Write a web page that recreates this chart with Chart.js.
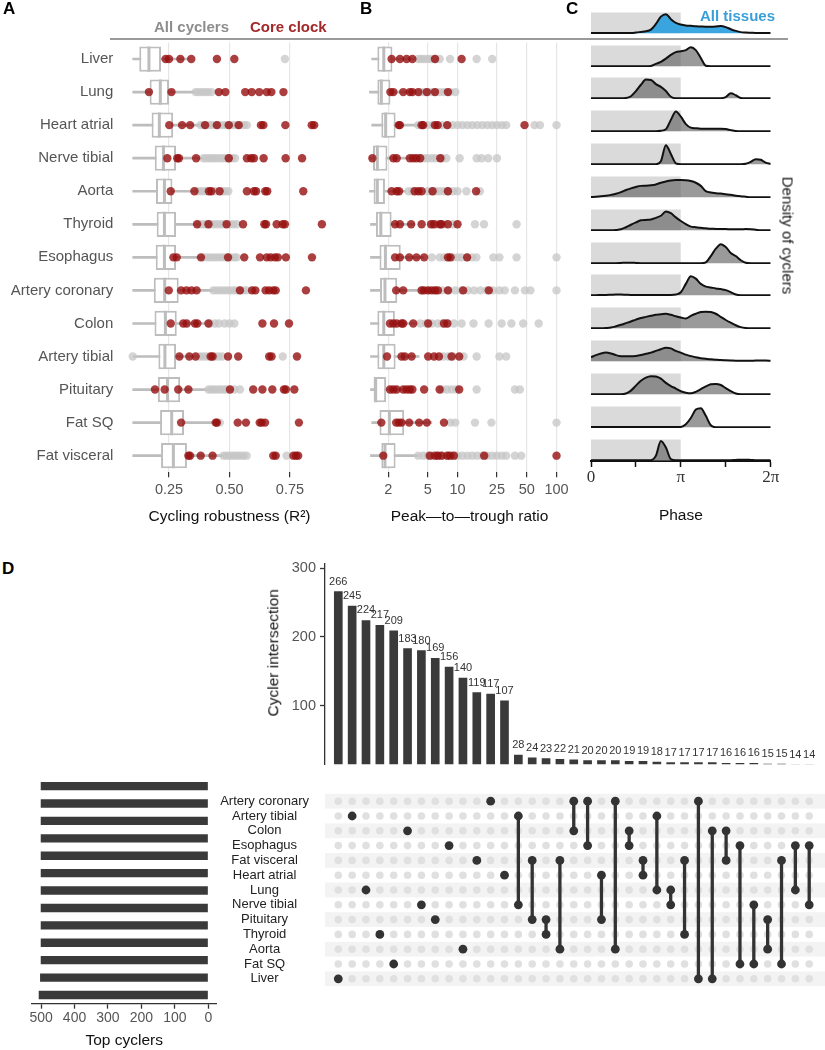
<!DOCTYPE html>
<html>
<head>
<meta charset="utf-8">
<script src="https://cdn.jsdelivr.net/npm/chart.js"></script>
<style>
    body { margin: 0; background: #fff; font-family: 'Liberation Sans', Arial, sans-serif; }
    #fig { position: relative; width: 825px; height: 1050px; overflow: hidden; }
    #fig canvas { position: absolute; }
    .lbl { position: absolute; white-space: nowrap; line-height: 1; }
    .panel { font-weight: bold; font-size: 17px; color: #000; }
</style>
</head>
<body>
<div id="fig">
    <div class="lbl panel" style="left:3px;top:0px">A</div>
    <div class="lbl panel" style="left:360px;top:0px">B</div>
    <div class="lbl panel" style="left:566px;top:0px">C</div>
    <div class="lbl panel" style="left:2px;top:560px">D</div>
    <div class="lbl" style="left:154px;top:19px;font-size:15px;font-weight:bold;color:#8e8e8e">All cyclers</div>
    <div class="lbl" style="left:250px;top:19px;font-size:15px;font-weight:bold;color:#a32a2a">Core clock</div>
    <div class="lbl" style="left:700px;top:8px;font-size:15px;font-weight:bold;color:#3a9fd8">All tissues</div>
    <div style="position:absolute;left:110px;top:38px;width:678px;height:2px;background:#9a9a9a"></div>
    <div class="lbl" style="left:723px;top:228px;width:130px;text-align:center;font-size:15px;font-weight:normal;color:#111;transform:rotate(90deg)">Density of cyclers</div>
    <div class="lbl" style="left:203px;top:645px;width:140px;text-align:center;font-size:15.5px;color:#111;transform:rotate(-90deg)">Cycler intersection</div>
</div>
<script>
// ---------- data ----------
const TISSUES = ['Liver', 'Lung', 'Heart atrial', 'Nerve tibial', 'Aorta', 'Thyroid', 'Esophagus',
    'Artery coronary', 'Colon', 'Artery tibial', 'Pituitary', 'Fat SQ', 'Fat visceral'];

// A: cycling robustness (R^2) box stats
const R2_LO  = [0.10, 0.10, 0.10, 0.10, 0.10, 0.10, 0.10, 0.10, 0.10, 0.103, 0.10, 0.10, 0.10];
const R2_Q1  = [0.127, 0.170, 0.178, 0.191, 0.196, 0.199, 0.195, 0.187, 0.190, 0.206, 0.204, 0.213, 0.217];
const R2_MED = [0.167, 0.214, 0.210, 0.227, 0.231, 0.231, 0.231, 0.232, 0.235, 0.233, 0.244, 0.261, 0.268];
const R2_Q3  = [0.217, 0.250, 0.267, 0.279, 0.264, 0.279, 0.279, 0.290, 0.282, 0.279, 0.296, 0.312, 0.324];
const R2_HI  = [0.33, 0.357, 0.38, 0.39, 0.37, 0.38, 0.39, 0.43, 0.40, 0.39, 0.42, 0.45, 0.475];
const R2_TICKS = [0.25, 0.5, 0.75];

const R2_CORE = [
    [0.236, 0.25, 0.297, 0.342, 0.448, 0.52],
    [0.167, 0.26, 0.456, 0.483, 0.565, 0.592, 0.623, 0.654, 0.673, 0.723],
    [0.251, 0.304, 0.337, 0.399, 0.448, 0.497, 0.538, 0.63, 0.64, 0.731, 0.84, 0.85],
    [0.243, 0.284, 0.291, 0.362, 0.497, 0.572, 0.59, 0.601, 0.641, 0.732, 0.8],
    [0.257, 0.355, 0.415, 0.425, 0.459, 0.572, 0.601, 0.61, 0.648, 0.656, 0.805],
    [0.366, 0.413, 0.488, 0.556, 0.644, 0.651, 0.695, 0.72, 0.729, 0.882],
    [0.268, 0.282, 0.382, 0.494, 0.561, 0.626, 0.654, 0.67, 0.688, 0.7, 0.733, 0.841],
    [0.249, 0.3, 0.322, 0.343, 0.364, 0.543, 0.593, 0.607, 0.649, 0.664, 0.681, 0.691, 0.816],
    [0.257, 0.309, 0.323, 0.357, 0.367, 0.413, 0.636, 0.684, 0.746],
    [0.293, 0.334, 0.36, 0.422, 0.43, 0.494, 0.536, 0.664, 0.674, 0.779],
    [0.192, 0.232, 0.288, 0.33, 0.502, 0.598, 0.636, 0.677, 0.725, 0.733, 0.768],
    [0.3, 0.443, 0.448, 0.534, 0.568, 0.625, 0.633, 0.647, 0.787],
    [0.33, 0.337, 0.381, 0.43, 0.681, 0.691, 0.764, 0.775, 0.784]
];
const R2_OUTLIERS = [
    [0.729],
    [0.36, 0.372, 0.385, 0.398, 0.41, 0.425],
    [0.38, 0.395, 0.41, 0.425, 0.44, 0.455, 0.47, 0.485, 0.5, 0.515, 0.53, 0.545, 0.56, 0.572],
    [0.392, 0.405, 0.418, 0.43, 0.443, 0.456, 0.47, 0.483, 0.496, 0.51, 0.523],
    [0.371, 0.385, 0.4, 0.44, 0.47, 0.482, 0.495],
    [0.378, 0.392, 0.406, 0.42, 0.434, 0.448, 0.462, 0.476, 0.5, 0.515, 0.53],
    [0.392, 0.406, 0.42, 0.434, 0.448, 0.462, 0.476, 0.49, 0.505, 0.52, 0.53],
    [0.433, 0.447, 0.461, 0.475, 0.489, 0.503, 0.517, 0.531, 0.545, 0.558, 0.571],
    [0.42, 0.44, 0.456, 0.48, 0.5, 0.52],
    [0.10, 0.378, 0.392, 0.406, 0.44, 0.455, 0.47, 0.72],
    [0.413, 0.425, 0.437, 0.45, 0.462, 0.475, 0.487, 0.52, 0.543],
    [0.46],
    [0.475, 0.487, 0.499, 0.511, 0.523, 0.535, 0.547, 0.559, 0.571, 0.736]
];

// B: peak-to-trough ratio box stats
const PTR_LO  = [1.36, 1.29, 1.36, 1.29, 1.29, 1.32, 1.32, 1.32, 1.32, 1.32, 1.32, 1.36, 1.32];
const PTR_Q1  = [1.55, 1.55, 1.70, 1.40, 1.42, 1.50, 1.63, 1.65, 1.55, 1.55, 1.42, 1.63, 1.70];
const PTR_MED = [1.80, 1.70, 1.88, 1.55, 1.55, 1.68, 1.87, 1.85, 1.80, 1.80, 1.49, 2.05, 1.85];
const PTR_Q3  = [2.20, 2.10, 2.37, 1.96, 1.85, 2.16, 2.67, 2.46, 2.33, 2.37, 1.90, 2.89, 2.37];
const PTR_HI  = [4.0, 3.6, 4.0, 3.3, 3.0, 3.7, 4.6, 4.2, 4.0, 4.1, 3.2, 5.5, 4.0];
const PTR_TICKS = [2, 5, 10, 25, 50, 100];

const PTR_CORE = [
    [2.16, 2.62, 3.06, 3.5, 5.92, 11.0],
    [2.1, 2.25, 2.83, 3.3, 3.5, 4.02, 4.9, 5.92, 8.0],
    [2.55, 2.62, 4.34, 4.5, 5.92, 6.3, 7.88, 47.5],
    [1.38, 2.25, 2.43, 3.3, 3.57, 3.85, 4.2, 6.7],
    [2.16, 2.43, 2.57, 3.69, 4.02, 4.34, 5.6, 8.0, 15.4],
    [2.34, 2.62, 3.4, 4.34, 5.4, 5.8, 6.65, 6.9, 8.0, 10.0],
    [2.34, 2.62, 3.25, 3.85, 4.6, 8.0, 8.5, 12.5],
    [2.4, 2.83, 4.34, 4.6, 5.05, 5.48, 5.92, 6.35, 8.0, 11.4, 20.7],
    [2.08, 2.25, 2.43, 2.72, 2.83, 3.57, 5.05, 7.3, 7.88],
    [1.94, 2.72, 2.94, 3.44, 5.05, 5.8, 6.5, 8.7, 10.4],
    [2.08, 2.25, 2.43, 2.83, 3.06, 3.3, 3.5, 4.6, 6.6, 10.4],
    [1.7, 2.4, 2.55, 2.72, 3.25, 4.1, 4.9, 7.3],
    [1.78, 5.25, 5.92, 6.35, 6.9, 7.88, 8.4, 9.2, 18.6, 100]
];
const PTR_OUTLIERS = [
    [4.0, 4.3, 4.6, 5.0, 5.4, 6.0, 6.6, 8.4, 15.6, 22.4],
    [4.2, 4.6, 5.0, 5.5, 6.0, 6.6, 7.3, 8.4, 9.5],
    [4.0, 4.5, 5.0, 5.6, 6.3, 7.0, 7.9, 8.9, 10, 11.2, 12.6, 14.1, 15.8, 17.8, 20, 22.4, 25, 28, 31, 60, 68, 100],
    [4.2, 4.6, 5.0, 5.5, 6.0, 7.0, 7.7, 10.5, 15.6, 17.5, 20.4, 25],
    [3.2, 3.5, 5.0, 5.5, 6.0, 6.6, 7.3, 8.0, 9.0, 10.0, 12.3, 16.8],
    [5.6, 6.2, 7.5, 9.0, 15, 18.5, 39.5],
    [5.5, 6.6, 7.3, 8.0, 9.0, 10, 11, 12.5, 14, 15.5, 23, 26.5, 39.5, 100],
    [4.3, 5.0, 6.0, 7.0, 8.2, 9.5, 11, 12.7, 14.7, 17, 19.7, 22.8, 26.5, 30, 38, 48, 54.5, 100],
    [4.2, 4.8, 5.5, 6.3, 7.0, 8.0, 9.2, 11, 14.5, 20.6, 27.9, 35, 46, 66],
    [7.2, 8.0, 9.0, 11.5, 15.6, 26.5, 31],
    [7.0, 7.8, 8.7, 9.7, 15.6, 38, 42.6],
    [8.5, 9.5, 15, 22, 100],
    [4.0, 4.5, 5.0, 5.6, 6.3, 7.0, 7.9, 8.9, 10, 11.2, 12.6, 14.1, 15.8, 17.8, 20, 22.4, 25, 28, 31, 38, 44]
];

// C: phase densities (degrees, 0..360 = 0..2pi)
const PHASE_DEG = [0, 10, 20, 30, 40, 50, 60, 70, 80, 90, 100, 110, 120, 130, 140, 150, 160, 170, 180,
    190, 200, 210, 220, 230, 240, 250, 260, 270, 280, 290, 300, 310, 320, 330, 340, 350, 360];
const PHASE_TICKS = [0, 90, 180, 270, 360];
const PHASE_TICK_LABELS = ['0', '', 'π', '', '2π'];
const NIGHT_BAND = [0, 180];
const DENSITY_ALL = [0.02, 0.02, 0.02, 0.02, 0.02, 0.02, 0.02, 0.02, 0.02, 0.04, 0.07, 0.10, 0.18, 0.45, 0.80, 0.92, 0.68, 0.50, 0.42,
    0.38, 0.36, 0.34, 0.33, 0.32, 0.32, 0.33, 0.35, 0.30, 0.20, 0.12, 0.06, 0.04, 0.03, 0.02, 0.02, 0.02, 0.02];
const DENSITY = [
    [0.01, 0.01, 0.01, 0.01, 0.01, 0.01, 0.01, 0.01, 0.01, 0.01, 0.01, 0.01, 0.02, 0.12, 0.22, 0.37, 0.55, 0.68, 0.72,
     0.78, 0.92, 0.78, 0.40, 0.03, 0.01, 0.01, 0.01, 0.01, 0.01, 0.01, 0.01, 0.01, 0.01, 0.01, 0.01, 0.01, 0.01],
    [0.01, 0.01, 0.01, 0.01, 0.01, 0.01, 0.01, 0.02, 0.10, 0.35, 0.65, 0.90, 0.88, 0.68, 0.55, 0.35, 0.08, 0.01, 0.01,
     0.01, 0.01, 0.01, 0.01, 0.01, 0.01, 0.01, 0.01, 0.06, 0.25, 0.15, 0.02, 0.01, 0.01, 0.01, 0.01, 0.01, 0.01],
    [0.01, 0.01, 0.01, 0.01, 0.01, 0.01, 0.01, 0.01, 0.01, 0.01, 0.01, 0.01, 0.01, 0.01, 0.03, 0.10, 0.55, 0.95, 0.70,
     0.35, 0.18, 0.15, 0.13, 0.12, 0.12, 0.12, 0.12, 0.11, 0.06, 0.02, 0.01, 0.01, 0.01, 0.01, 0.01, 0.01, 0.01],
    [0.01, 0.01, 0.01, 0.01, 0.01, 0.01, 0.01, 0.01, 0.01, 0.01, 0.01, 0.01, 0.01, 0.01, 0.15, 0.92, 0.50, 0.05, 0.01,
     0.01, 0.01, 0.01, 0.01, 0.01, 0.01, 0.01, 0.01, 0.01, 0.01, 0.01, 0.01, 0.03, 0.12, 0.25, 0.22, 0.08, 0.02],
    [0.02, 0.03, 0.05, 0.08, 0.12, 0.17, 0.25, 0.35, 0.43, 0.50, 0.55, 0.56, 0.58, 0.62, 0.70, 0.76, 0.81, 0.83, 0.83,
     0.82, 0.78, 0.70, 0.55, 0.30, 0.23, 0.20, 0.18, 0.15, 0.12, 0.08, 0.05, 0.03, 0.01, 0.01, 0.01, 0.01, 0.01],
    [0.01, 0.01, 0.01, 0.01, 0.01, 0.02, 0.05, 0.15, 0.27, 0.38, 0.48, 0.50, 0.52, 0.60, 0.70, 0.90, 0.82, 0.62, 0.45,
     0.30, 0.18, 0.15, 0.12, 0.10, 0.08, 0.07, 0.06, 0.06, 0.05, 0.05, 0.05, 0.06, 0.05, 0.03, 0.01, 0.01, 0.01],
    [0.01, 0.01, 0.01, 0.01, 0.01, 0.01, 0.02, 0.03, 0.03, 0.02, 0.01, 0.01, 0.01, 0.01, 0.01, 0.01, 0.01, 0.01, 0.01,
     0.01, 0.01, 0.01, 0.01, 0.05, 0.35, 0.70, 0.92, 0.78, 0.50, 0.35, 0.15, 0.03, 0.01, 0.01, 0.01, 0.01, 0.01],
    [0.01, 0.01, 0.02, 0.02, 0.03, 0.04, 0.04, 0.03, 0.02, 0.02, 0.02, 0.02, 0.02, 0.02, 0.02, 0.02, 0.02, 0.04, 0.15,
     0.55, 0.92, 0.80, 0.55, 0.42, 0.38, 0.33, 0.30, 0.25, 0.15, 0.04, 0.01, 0.01, 0.01, 0.01, 0.01, 0.01, 0.01],
    [0.01, 0.01, 0.01, 0.02, 0.04, 0.10, 0.17, 0.25, 0.33, 0.42, 0.50, 0.55, 0.60, 0.65, 0.67, 0.70, 0.65, 0.58, 0.52,
     0.47, 0.60, 0.70, 0.78, 0.80, 0.78, 0.70, 0.55, 0.40, 0.27, 0.15, 0.06, 0.02, 0.01, 0.01, 0.01, 0.01, 0.01],
    [0.20, 0.30, 0.38, 0.42, 0.38, 0.30, 0.25, 0.24, 0.24, 0.26, 0.30, 0.36, 0.42, 0.50, 0.58, 0.65, 0.62, 0.50, 0.42,
     0.32, 0.25, 0.20, 0.15, 0.12, 0.10, 0.08, 0.06, 0.05, 0.04, 0.03, 0.03, 0.03, 0.03, 0.04, 0.04, 0.04, 0.03],
    [0.01, 0.01, 0.01, 0.01, 0.01, 0.01, 0.01, 0.04, 0.18, 0.42, 0.65, 0.80, 0.87, 0.85, 0.75, 0.55, 0.40, 0.28, 0.15,
     0.08, 0.05, 0.12, 0.25, 0.38, 0.48, 0.50, 0.45, 0.30, 0.15, 0.04, 0.01, 0.01, 0.01, 0.01, 0.01, 0.01, 0.01],
    [0.02, 0.02, 0.02, 0.02, 0.02, 0.02, 0.02, 0.02, 0.02, 0.02, 0.02, 0.02, 0.02, 0.02, 0.02, 0.02, 0.02, 0.02, 0.02,
     0.15, 0.45, 0.85, 0.92, 0.55, 0.10, 0.01, 0.01, 0.01, 0.01, 0.01, 0.01, 0.01, 0.01, 0.01, 0.01, 0.01, 0.01],
    [0.01, 0.01, 0.01, 0.01, 0.01, 0.01, 0.01, 0.01, 0.01, 0.01, 0.01, 0.01, 0.01, 0.22, 0.93, 0.62, 0.06, 0.01, 0.01,
     0.01, 0.01, 0.01, 0.01, 0.01, 0.01, 0.01, 0.01, 0.01, 0.01, 0.02, 0.03, 0.03, 0.02, 0.01, 0.01, 0.01, 0.01]
];

// D: upset plot
const MATRIX_ROWS = ['Artery coronary', 'Artery tibial', 'Colon', 'Esophagus', 'Fat visceral', 'Heart atrial',
    'Lung', 'Nerve tibial', 'Pituitary', 'Thyroid', 'Aorta', 'Fat SQ', 'Liver'];
const TOP_CYCLERS = [501, 501, 501, 501, 501, 501, 501, 501, 501, 501, 501, 503, 507];
const TOP_TICKS = [0, 100, 200, 300, 400, 500];
const INTERSECT_COUNTS = [266, 245, 224, 217, 209, 183, 180, 169, 156, 140, 119, 117, 107,
    28, 24, 23, 22, 21, 20, 20, 20, 19, 19, 18, 17, 17, 17, 17, 16, 16, 16, 15, 15, 14, 14];
const INTERSECT_TICKS = [100, 200, 300];
const INTERSECT_SETS = [
    ['Liver'], ['Artery tibial'], ['Lung'], ['Thyroid'], ['Fat SQ'], ['Colon'], ['Nerve tibial'],
    ['Pituitary'], ['Esophagus'], ['Aorta'], ['Fat visceral'], ['Artery coronary'], ['Heart atrial'],
    ['Artery tibial', 'Nerve tibial'], ['Fat visceral', 'Pituitary'], ['Pituitary', 'Thyroid'],
    ['Fat visceral', 'Aorta'], ['Artery coronary', 'Colon'], ['Artery coronary', 'Esophagus'],
    ['Heart atrial', 'Pituitary'], ['Artery coronary', 'Aorta'], ['Colon', 'Esophagus'],
    ['Fat visceral', 'Heart atrial'], ['Artery tibial', 'Lung'], ['Lung', 'Nerve tibial'],
    ['Fat visceral', 'Thyroid'], ['Artery coronary', 'Liver'], ['Colon', 'Liver'], ['Colon', 'Fat visceral'],
    ['Esophagus', 'Fat SQ'], ['Nerve tibial', 'Fat SQ'], ['Pituitary', 'Aorta'], ['Fat visceral', 'Fat SQ'],
    ['Esophagus', 'Lung'], ['Esophagus', 'Nerve tibial']
];

// ---------- setup ----------
Chart.defaults.font.family = "'Liberation Sans', Arial, sans-serif";
Chart.defaults.animation = false;
Chart.defaults.layout.autoPadding = false;
Chart.defaults.plugins.legend.display = false;
Chart.defaults.plugins.tooltip.enabled = false;

const BOX_GREY = '#bdbdbd';
const DARK = '#3a3a3a';

function addCanvas(left, top, width, height) {
    const fig = document.getElementById('fig');
    const c = document.createElement('canvas');
    c.width = width;
    c.height = height;
    c.style.left = left + 'px';
    c.style.top = top + 'px';
    c.style.width = width + 'px';
    c.style.height = height + 'px';
    fig.insertBefore(c, fig.firstChild);
    return c;
}

function pointsByTissue(rows) {
    return rows.flatMap((vals, i) => vals.map(v => ({ x: v, y: TISSUES[i] })));
}

/**
 * Box plot + core clock dots (panels A and B)
 */
function boxPanel(canvas, s) {
    return new Chart(canvas, {
        type: 'bar',
        data: {
            labels: TISSUES,
            datasets: [
                { type: 'scatter', data: pointsByTissue(s.core), backgroundColor: 'rgba(150,15,15,0.8)',
                  pointRadius: 4.2, borderWidth: 0, order: 0 },
                { type: 'scatter', data: pointsByTissue(s.outliers), backgroundColor: 'rgba(198,198,198,0.75)',
                  pointRadius: 4.2, borderWidth: 0, order: 1 },
                { type: 'scatter', data: TISSUES.map((t, i) => ({ x: s.med[i], y: t })), pointStyle: 'line',
                  rotation: 90, pointRadius: 12.6, borderColor: BOX_GREY, borderWidth: 3, order: 2 },
                { type: 'bar', indexAxis: 'y', data: TISSUES.map((t, i) => [s.q1[i], s.q3[i]]),
                  backgroundColor: '#fff', borderColor: BOX_GREY, borderWidth: 2, borderSkipped: false,
                  barPercentage: 0.765, categoryPercentage: 1, grouped: false, order: 3 },
                { type: 'bar', indexAxis: 'y', data: TISSUES.map((t, i) => [s.lo[i], s.hi[i]]),
                  backgroundColor: BOX_GREY, barThickness: 2, grouped: false, order: 4 }
            ]
        },
        options: {
            responsive: false,
            devicePixelRatio: 1,
            layout: { padding: s.padding },
            scales: {
                x: {
                    type: s.xType, min: s.min, max: s.max, offset: false,
                    afterBuildTicks: ax => { ax.ticks = s.ticks.map(v => ({ value: v })); },
                    afterFit: ax => { ax.height = 53.8; },
                    ticks: { callback: s.fmt, color: '#555', font: { size: 14.5 }, padding: 4,
                             maxRotation: 0, autoSkip: false },
                    grid: { offset: false, color: '#e6e6e6', lineWidth: 1.2, tickColor: '#333',
                            tickLength: 5, tickWidth: 1.2 },
                    border: { display: false },
                    title: { display: true, text: s.title, color: '#111', font: { size: 15.5 },
                             padding: { top: 0, bottom: 0 } }
                },
                y: {
                    type: 'category', offset: true, display: s.showLabels,
                    afterFit: ax => { ax.width = s.yWidth; },
                    grid: { display: false, drawTicks: false },
                    border: { display: false },
                    ticks: { color: '#555', font: { size: 15 }, padding: 14.6, autoSkip: false }
                }
            }
        }
    });
}

boxPanel(addCanvas(0, 0, 340, 526), {
    core: R2_CORE, outliers: R2_OUTLIERS, lo: R2_LO, q1: R2_Q1, med: R2_MED, q3: R2_Q3, hi: R2_HI,
    xType: 'linear', min: 0.08, max: 0.92, ticks: R2_TICKS, fmt: v => Number(v).toFixed(2),
    title: 'Cycling robustness (R²)', showLabels: true, yWidth: 127.9, padding: { top: 42.5, right: 8.9 }
});

boxPanel(addCanvas(340, 0, 240, 526), {
    core: PTR_CORE, outliers: PTR_OUTLIERS, lo: PTR_LO, q1: PTR_Q1, med: PTR_MED, q3: PTR_Q3, hi: PTR_HI,
    xType: 'logarithmic', min: 1.25, max: 140, ticks: PTR_TICKS, fmt: v => String(v),
    title: 'Peak—to—trough ratio', showLabels: false, yWidth: 28.1, padding: { top: 42.5, right: 9 }
});

// ---------- C: ridgelines ----------
function ridgeRow(baseline, dens, fill, withAxis) {
    const unit = 32 / 1.53;
    const top = Math.round(baseline - 1.5 * unit);
    const height = withAxis ? 525 - top : 32;
    const canvas = addCanvas(585, top, 200, height);
    new Chart(canvas, {
        type: 'line',
        data: {
            datasets: [
                { data: PHASE_DEG.map((d, k) => ({ x: d, y: dens[k] })), fill: 'origin', backgroundColor: fill,
                  borderColor: '#111', borderWidth: 2, pointRadius: 0, cubicInterpolationMode: 'monotone', order: 0 },
                { data: NIGHT_BAND.map(d => ({ x: d, y: 1 })), fill: 'origin', backgroundColor: '#dadada',
                  borderWidth: 0, pointRadius: 0, order: 1 }
            ]
        },
        options: {
            responsive: false,
            devicePixelRatio: 1,
            layout: { padding: { left: 6, right: 14.3 } },
            scales: {
                x: {
                    type: 'linear', min: 0, max: 360, display: withAxis,
                    afterBuildTicks: ax => { ax.ticks = PHASE_TICKS.map(v => ({ value: v })); },
                    afterFit: ax => { ax.height = height - 32; },
                    ticks: { callback: (v, i) => PHASE_TICK_LABELS[i], color: '#333',
                             font: { family: "'Liberation Serif', serif", size: 17 }, padding: 0,
                             maxRotation: 0, autoSkip: false },
                    grid: { drawOnChartArea: false, tickColor: '#111', tickLength: 6, tickWidth: 1.5 },
                    border: { color: '#111', width: 2 },
                    title: { display: true, text: 'Phase', color: '#111', font: { size: 15.5 },
                             padding: { top: 0, bottom: 0 } }
                },
                y: { type: 'linear', min: -0.03, max: 1.5, display: false }
            }
        }
    });
}

ridgeRow(33.3, DENSITY_ALL, 'rgba(43,160,222,0.92)', false);
TISSUES.forEach((t, i) => {
    ridgeRow(66 + i * 32.83, DENSITY[i], 'rgba(100,100,100,0.65)', i === TISSUES.length - 1);
});

// ---------- D: upset ----------
const COL_MIN = 0.04, COL_MAX = 36.14;

const barValueLabels = {
    id: 'barValueLabels',
    afterDatasetsDraw(chart) {
        const ctx = chart.ctx;
        ctx.save();
        ctx.font = "11px 'Liberation Sans', Arial, sans-serif";
        ctx.fillStyle = '#333';
        ctx.textAlign = 'center';
        ctx.textBaseline = 'middle';
        chart.getDatasetMeta(0).data.forEach((bar, i) => {
            ctx.fillText(String(INTERSECT_COUNTS[i]), bar.x, bar.y - 10);
        });
        ctx.restore();
    }
};

new Chart(addCanvas(230, 550, 595, 227), {
    type: 'bar',
    data: {
        datasets: [{
            data: INTERSECT_COUNTS.map((v, i) => ({ x: i + 1, y: v })),
            backgroundColor: DARK, barThickness: 8
        }]
    },
    options: {
        responsive: false,
        devicePixelRatio: 1,
        layout: { padding: { top: 13.3, bottom: 0.3 } },
        scales: {
            x: { type: 'linear', min: COL_MIN, max: COL_MAX, offset: false, display: false },
            y: {
                type: 'linear', min: 14.67, max: 307.2,
                afterBuildTicks: ax => { ax.ticks = INTERSECT_TICKS.map(v => ({ value: v })); },
                afterFit: ax => { ax.width = 95; },
                ticks: { color: '#555', font: { size: 14.5 }, padding: 4 },
                grid: { drawOnChartArea: false, tickColor: '#333', tickLength: 5, tickWidth: 1.3 },
                border: { color: '#333', width: 1.3 }
            }
        }
    },
    plugins: [barValueLabels]
});

const rowStripes = {
    id: 'rowStripes',
    beforeDatasetsDraw(chart) {
        const { ctx, chartArea, scales } = chart;
        const band = (chartArea.bottom - chartArea.top) / MATRIX_ROWS.length;
        ctx.save();
        ctx.fillStyle = '#f3f3f3';
        MATRIX_ROWS.forEach((r, i) => {
            if (i % 2 !== 0) return;
            const cy = scales.y.getPixelForValue(i);
            ctx.fillRect(chartArea.left, cy - band / 2, chartArea.right - chartArea.left, band);
        });
        ctx.restore();
    }
};

const activeDots = [];
const inactiveDots = [];
INTERSECT_SETS.forEach((sets, c) => {
    MATRIX_ROWS.forEach(r => {
        (sets.includes(r) ? activeDots : inactiveDots).push({ x: c + 1, y: r });
    });
});
const connectors = INTERSECT_SETS
    .map((sets, c) => ({ sets, c }))
    .filter(o => o.sets.length > 1)
    .map(o => ({
        type: 'line', data: o.sets.map(s => ({ x: o.c + 1, y: s })),
        borderColor: '#333', borderWidth: 3.3, pointRadius: 0, order: 1
    }));

new Chart(addCanvas(215, 770, 610, 240), {
    type: 'scatter',
    data: {
        datasets: [
            { data: activeDots, backgroundColor: '#333', pointRadius: 4.4, borderWidth: 0, order: 0 },
            ...connectors,
            { data: inactiveDots, backgroundColor: '#e0e0e0', pointRadius: 3.8, borderWidth: 0, order: 2 }
        ]
    },
    options: {
        responsive: false,
        devicePixelRatio: 1,
        layout: { padding: { top: 7.4, bottom: 6.3 } },
        scales: {
            x: { type: 'linear', min: COL_MIN, max: COL_MAX, offset: false, display: false },
            y: {
                type: 'category', labels: MATRIX_ROWS, offset: true,
                afterFit: ax => { ax.width = 110; },
                grid: { display: false, drawTicks: false },
                border: { display: false },
                ticks: { color: '#222', font: { size: 13 }, padding: 16, crossAlign: 'center', autoSkip: false }
            }
        }
    },
    plugins: [rowStripes]
});

new Chart(addCanvas(0, 770, 222, 280), {
    type: 'bar',
    data: {
        labels: MATRIX_ROWS,
        datasets: [{
            data: TOP_CYCLERS, backgroundColor: DARK,
            barPercentage: 0.48, categoryPercentage: 1
        }]
    },
    options: {
        responsive: false,
        devicePixelRatio: 1,
        indexAxis: 'y',
        layout: { padding: { top: 7.4, left: 31.7, right: 5.3 } },
        scales: {
            y: { type: 'category', offset: true, display: false },
            x: {
                type: 'linear', reverse: true, min: -25, max: 528,
                afterBuildTicks: ax => { ax.ticks = TOP_TICKS.map(v => ({ value: v })); },
                afterFit: ax => { ax.height = 46.3; },
                ticks: { color: '#555', font: { size: 14 }, padding: 1, maxRotation: 0, autoSkip: false },
                grid: { drawOnChartArea: false, tickColor: '#333', tickLength: 5, tickWidth: 1.3 },
                border: { color: '#333', width: 1.3 },
                title: { display: true, text: 'Top cyclers', color: '#111', font: { size: 15.5 },
                         padding: { top: 0, bottom: 0 } }
            }
        }
    }
});
</script>
</body>
</html>
